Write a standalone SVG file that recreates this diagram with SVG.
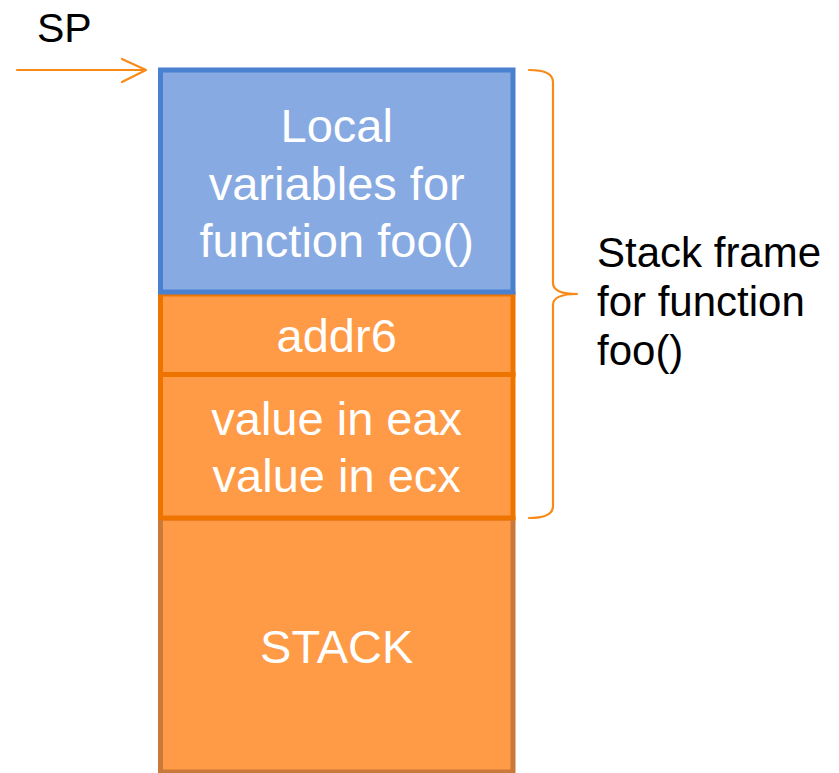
<svg xmlns="http://www.w3.org/2000/svg" width="839" height="773" viewBox="0 0 839 773">
  <style>
    text { font-family: "Liberation Sans", Arial, Helvetica, sans-serif; }
    .box-text { fill: #ffffff; font-size: 47px; text-anchor: middle; }
    .label { fill: #000000; }
    .orange { fill: #FF9A46; stroke: #EE7400; stroke-width: 5; }
    .wire { fill: none; stroke: #F98A17; stroke-width: 2.2; stroke-linecap: round; stroke-linejoin: round; }
  </style>

  <rect width="839" height="773" fill="#ffffff"/>

  <!-- bottom of the stack -->
  <g id="stack">
    <rect x="160.5" y="518" width="352.5" height="254" fill="#FF9A46" stroke="#C97A3A" stroke-width="5"/>
    <text class="box-text" x="336.7" y="663">STACK</text>
  </g>

  <!-- saved registers -->
  <g id="saved-registers">
    <rect class="orange" x="160.5" y="374.5" width="352.5" height="143.5"/>
    <text class="box-text" x="336.7" y="435">value in eax</text>
    <text class="box-text" x="336.7" y="492">value in ecx</text>
  </g>

  <!-- return address -->
  <g id="return-address">
    <rect class="orange" x="160.5" y="294" width="352.5" height="80.5"/>
    <text class="box-text" x="336.7" y="352">addr6</text>
  </g>

  <!-- locals of foo() -->
  <g id="locals">
    <rect x="160.5" y="70" width="352.5" height="222" fill="#87AAE2" stroke="#4A80D0" stroke-width="5"/>
    <text class="box-text" x="336.7" y="142">Local</text>
    <text class="box-text" x="336.7" y="200">variables for</text>
    <text class="box-text" x="336.7" y="257">function foo()</text>
  </g>

  <!-- stack pointer label -->
  <g id="sp">
    <text class="label" x="37" y="42" font-size="41">SP</text>
  </g>

  <!-- frame label -->
  <g id="frame-label">
    <text class="label" x="597" y="267" font-size="42">Stack frame</text>
    <text class="label" x="597" y="316" font-size="42">for function</text>
    <text class="label" x="597" y="365" font-size="42">foo()</text>
  </g>

  <!-- connectors -->
  <g id="connectors">
    <path class="wire" d="M17,70 L145,70"/>
    <path class="wire" d="M122,59 L146,70 L122,82"/>
    <path class="wire" d="M529,70 Q553,70 553,82 L553,283 Q553,294 577,294 Q553,294 553,305 L553,506 Q553,518 529,518"/>
  </g>
</svg>
